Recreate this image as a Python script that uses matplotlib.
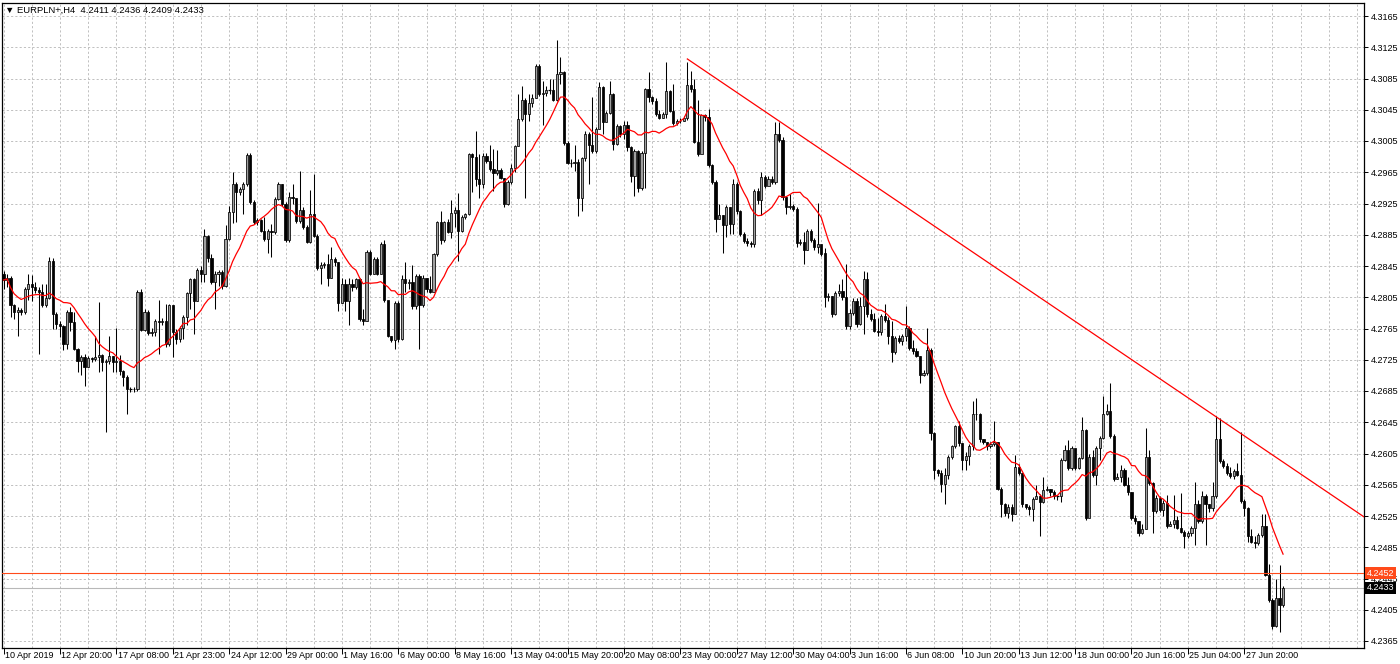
import matplotlib
matplotlib.use("Agg")
import matplotlib.pyplot as plt
import matplotlib.transforms as mtransforms
import numpy as np
import pandas as pd

# ---------------- data (EURPLN+, H4) ----------------
opens = [
    4.2835, 4.2827, 4.2830, 4.2795, 4.2786, 4.2789, 4.2786, 4.2815, 4.2822, 4.2818,
    4.2814, 4.2812, 4.2795, 4.2804, 4.2852, 4.2784, 4.2771, 4.2768, 4.2745, 4.2786,
    4.2773, 4.2739, 4.2724, 4.2728, 4.2716, 4.2727, 4.2726, 4.2728, 4.2731, 4.2722,
    4.2723, 4.2730, 4.2722, 4.2724, 4.2710, 4.2703, 4.2688, 4.2688, 4.2687, 4.2812,
    4.2763, 4.2786, 4.2759, 4.2761, 4.2775, 4.2773, 4.2775, 4.2745, 4.2795, 4.2760,
    4.2752, 4.2766, 4.2780, 4.2810, 4.2828, 4.2800, 4.2840, 4.2835, 4.2883, 4.2855,
    4.2825, 4.2835, 4.2837, 4.2820, 4.2880, 4.2914, 4.2950, 4.2940, 4.2943, 4.2950,
    4.2987, 4.2927, 4.2901, 4.2904, 4.2890, 4.2880, 4.2890, 4.2888, 4.2931, 4.2950,
    4.2925, 4.2878, 4.2933, 4.2932, 4.2903, 4.2917, 4.2895, 4.2876, 4.2912, 4.2884,
    4.2843, 4.2846, 4.2848, 4.2830, 4.2854, 4.2850, 4.2798, 4.2822, 4.2800, 4.2822,
    4.2818, 4.2828, 4.2777, 4.2775, 4.2863, 4.2835, 4.2854, 4.2835, 4.2873, 4.2801,
    4.2756, 4.2750, 4.2798, 4.2752, 4.2828, 4.2823, 4.2825, 4.2794, 4.2832, 4.2795,
    4.2830, 4.2815, 4.2812, 4.2860, 4.2901, 4.2878, 4.2901, 4.2889, 4.2913, 4.2917,
    4.2890, 4.2908, 4.2911, 4.2988, 4.2985, 4.2956, 4.2950, 4.2986, 4.2980, 4.2969,
    4.2964, 4.2968, 4.2958, 4.2925, 4.2952, 4.2970, 4.2999, 4.3033, 4.3057, 4.3040,
    4.3054, 4.3060, 4.3101, 4.3065, 4.3066, 4.3070, 4.3070, 4.3057, 4.3091, 4.3093,
    4.3003, 4.2977, 4.2977, 4.2978, 4.2932, 4.2983, 4.3014, 4.3000, 4.2992, 4.3020,
    4.3074, 4.3029, 4.3041, 4.3065, 4.3001, 4.3024, 4.3014, 4.3026, 4.2997, 4.2960,
    4.2992, 4.2945, 4.2990, 4.3071, 4.3061, 4.3056, 4.3039, 4.3035, 4.3039, 4.3069,
    4.3044, 4.3028, 4.3030, 4.3031, 4.3034, 4.3077, 4.3072, 4.3004, 4.2989, 4.3038,
    4.3036, 4.2974, 4.2952, 4.2905, 4.2910, 4.2898, 4.2920, 4.2899, 4.2950, 4.2916,
    4.2886, 4.2877, 4.2875, 4.2873, 4.2941, 4.2929, 4.2959, 4.2948, 4.2957, 4.2953,
    4.3014, 4.3006, 4.2933, 4.2920, 4.2922, 4.2918, 4.2875, 4.2876, 4.2865, 4.2890,
    4.2878, 4.2869, 4.2873, 4.2861, 4.2805, 4.2806, 4.2783, 4.2811, 4.2813, 4.2805,
    4.2768, 4.2785, 4.2800, 4.2771, 4.2794, 4.2828, 4.2783, 4.2777, 4.2762, 4.2760,
    4.2781, 4.2776, 4.2755, 4.2735, 4.2753, 4.2749, 4.2755, 4.2766, 4.2740, 4.2736,
    4.2730, 4.2706, 4.2708, 4.2738, 4.2631, 4.2584, 4.2580, 4.2566, 4.2578, 4.2601,
    4.2614, 4.2640, 4.2618, 4.2597, 4.2602, 4.2614, 4.2655, 4.2656, 4.2623, 4.2620,
    4.2614, 4.2617, 4.2620, 4.2560, 4.2541, 4.2529, 4.2537, 4.2527, 4.2588, 4.2580,
    4.2540, 4.2536, 4.2534, 4.2547, 4.2550, 4.2543, 4.2558, 4.2560, 4.2556, 4.2550,
    4.2550, 4.2597, 4.2610, 4.2586, 4.2612, 4.2586, 4.2599, 4.2635, 4.2522, 4.2601,
    4.2578, 4.2612, 4.2625, 4.2655, 4.2659, 4.2627, 4.2573, 4.2575, 4.2584, 4.2565,
    4.2556, 4.2522, 4.2518, 4.2503, 4.2509, 4.2600, 4.2567, 4.2531, 4.2548, 4.2533,
    4.2542, 4.2512, 4.2515, 4.2520, 4.2510, 4.2505, 4.2499, 4.2503, 4.2510, 4.2541,
    4.2518, 4.2550, 4.2540, 4.2535, 4.2550, 4.2623, 4.2595, 4.2589, 4.2580, 4.2576,
    4.2582, 4.2578, 4.2544, 4.2535, 4.2499, 4.2492, 4.2490, 4.2501, 4.2512, 4.2450,
    4.2418, 4.2384, 4.2420, 4.2411,
]
highs = [
    4.2838, 4.2835, 4.2832, 4.2797, 4.2792, 4.2791, 4.2818, 4.2835, 4.2833, 4.2824,
    4.2818, 4.2822, 4.2822, 4.2856, 4.2855, 4.2786, 4.2775, 4.2770, 4.2789, 4.2792,
    4.2786, 4.2740, 4.2731, 4.2733, 4.2730, 4.2729, 4.2756, 4.2799, 4.2733, 4.2726,
    4.2756, 4.2730, 4.2766, 4.2731, 4.2712, 4.2705, 4.2690, 4.2690, 4.2814, 4.2815,
    4.2790, 4.2789, 4.2766, 4.2777, 4.2801, 4.2778, 4.2797, 4.2797, 4.2795, 4.2765,
    4.2768, 4.2782, 4.2812, 4.2830, 4.2830, 4.2842, 4.2845, 4.2893, 4.2885, 4.2860,
    4.2838, 4.2840, 4.2840, 4.2897, 4.2922, 4.2965, 4.2952, 4.2946, 4.2953, 4.2990,
    4.2990, 4.2930, 4.2907, 4.2905, 4.2908, 4.2892, 4.2899, 4.2933, 4.2952, 4.2950,
    4.2927, 4.2940, 4.2950, 4.2930, 4.2967, 4.2920, 4.2897, 4.2942, 4.2963, 4.2886,
    4.2850, 4.2850, 4.2860, 4.2869, 4.2856, 4.2850, 4.2830, 4.2828, 4.2830, 4.2828,
    4.2830, 4.2830, 4.2790, 4.2866, 4.2866, 4.2856, 4.2856, 4.2876, 4.2878, 4.2800,
    4.2756, 4.2800, 4.2800, 4.2833, 4.2850, 4.2828, 4.2846, 4.2835, 4.2835, 4.2833,
    4.2830, 4.2832, 4.2862, 4.2903, 4.2916, 4.2903, 4.2905, 4.2930, 4.2920, 4.2939,
    4.2910, 4.2913, 4.2990, 4.2990, 4.3018, 4.2988, 4.2990, 4.2990, 4.3000, 4.2995,
    4.2994, 4.2970, 4.2958, 4.2955, 4.2975, 4.3000, 4.3065, 4.3075, 4.3060, 4.3065,
    4.3065, 4.3104, 4.3104, 4.3082, 4.3075, 4.3084, 4.3084, 4.3134, 4.3112, 4.3094,
    4.3005, 4.2982, 4.3000, 4.2982, 4.2985, 4.3018, 4.3016, 4.3061, 4.3023, 4.3080,
    4.3076, 4.3043, 4.3082, 4.3066, 4.3027, 4.3025, 4.3030, 4.3030, 4.2998, 4.2995,
    4.2993, 4.2992, 4.3073, 4.3093, 4.3063, 4.3060, 4.3045, 4.3042, 4.3106, 4.3070,
    4.3078, 4.3033, 4.3035, 4.3037, 4.3106, 4.3094, 4.3085, 4.3057, 4.3040, 4.3040,
    4.3046, 4.2975, 4.2955, 4.2924, 4.2910, 4.2923, 4.2921, 4.2957, 4.2952, 4.2917,
    4.2888, 4.2881, 4.2877, 4.2943, 4.2945, 4.2965, 4.2962, 4.2960, 4.2960, 4.3029,
    4.3029, 4.3010, 4.2935, 4.2937, 4.2925, 4.2920, 4.2880, 4.2888, 4.2893, 4.2892,
    4.2881, 4.2926, 4.2872, 4.2868, 4.2810, 4.2807, 4.2813, 4.2822, 4.2828, 4.2847,
    4.2790, 4.2804, 4.2804, 4.2805, 4.2839, 4.2837, 4.2790, 4.2785, 4.2778, 4.2784,
    4.2796, 4.2780, 4.2775, 4.2755, 4.2757, 4.2758, 4.2794, 4.2768, 4.2750, 4.2740,
    4.2730, 4.2712, 4.2766, 4.2740, 4.2633, 4.2585, 4.2584, 4.2586, 4.2603, 4.2616,
    4.2642, 4.2646, 4.2619, 4.2607, 4.2617, 4.2672, 4.2676, 4.2657, 4.2624, 4.2620,
    4.2620, 4.2646, 4.2620, 4.2562, 4.2542, 4.2540, 4.2540, 4.2603, 4.2592, 4.2580,
    4.2540, 4.2539, 4.2549, 4.2565, 4.2553, 4.2575, 4.2563, 4.2560, 4.2558, 4.2552,
    4.2599, 4.2616, 4.2622, 4.2614, 4.2607, 4.2601, 4.2652, 4.2637, 4.2604, 4.2610,
    4.2614, 4.2627, 4.2678, 4.2668, 4.2695, 4.2630, 4.2580, 4.2590, 4.2586, 4.2575,
    4.2556, 4.2526, 4.2518, 4.2515, 4.2638, 4.2610, 4.2569, 4.2552, 4.2550, 4.2545,
    4.2552, 4.2518, 4.2552, 4.2525, 4.2555, 4.2507, 4.2506, 4.2512, 4.2569, 4.2545,
    4.2557, 4.2553, 4.2540, 4.2569, 4.2653, 4.2651, 4.2598, 4.2593, 4.2588, 4.2585,
    4.2593, 4.2632, 4.2547, 4.2537, 4.2508, 4.2500, 4.2503, 4.2527, 4.2527, 4.2463,
    4.2420, 4.2445, 4.2462, 4.2436,
]
lows = [
    4.2815, 4.2818, 4.2780, 4.2777, 4.2756, 4.2782, 4.2783, 4.2802, 4.2800, 4.2810,
    4.2733, 4.2792, 4.2793, 4.2803, 4.2765, 4.2765, 4.2754, 4.2737, 4.2739, 4.2762,
    4.2737, 4.2709, 4.2705, 4.2692, 4.2716, 4.2722, 4.2723, 4.2709, 4.2711, 4.2632,
    4.2720, 4.2709, 4.2709, 4.2705, 4.2692, 4.2655, 4.2684, 4.2684, 4.2685, 4.2762,
    4.2762, 4.2757, 4.2756, 4.2756, 4.2733, 4.2770, 4.2741, 4.2743, 4.2728, 4.2745,
    4.2748, 4.2752, 4.2770, 4.2790, 4.2758, 4.2800, 4.2825, 4.2825, 4.2850, 4.2822,
    4.2790, 4.2820, 4.2816, 4.2818, 4.2878, 4.2900, 4.2901, 4.2936, 4.2912, 4.2948,
    4.2925, 4.2899, 4.2897, 4.2888, 4.2877, 4.2862, 4.2856, 4.2886, 4.2930, 4.2922,
    4.2876, 4.2876, 4.2925, 4.2900, 4.2900, 4.2893, 4.2874, 4.2874, 4.2882, 4.2840,
    4.2822, 4.2842, 4.2820, 4.2830, 4.2845, 4.2788, 4.2798, 4.2788, 4.2770, 4.2813,
    4.2815, 4.2775, 4.2770, 4.2775, 4.2833, 4.2835, 4.2833, 4.2835, 4.2799, 4.2754,
    4.2748, 4.2739, 4.2748, 4.2750, 4.2812, 4.2815, 4.2790, 4.2790, 4.2739, 4.2793,
    4.2812, 4.2810, 4.2826, 4.2858, 4.2873, 4.2876, 4.2887, 4.2881, 4.2895, 4.2851,
    4.2888, 4.2905, 4.2910, 4.2940, 4.2947, 4.2932, 4.2945, 4.2977, 4.2966, 4.2941,
    4.2962, 4.2956, 4.2920, 4.2923, 4.2950, 4.2965, 4.2998, 4.3030, 4.2932, 4.3030,
    4.3048, 4.3060, 4.3062, 4.3026, 4.3062, 4.3065, 4.3056, 4.3056, 4.3078, 4.3000,
    4.2975, 4.2972, 4.2966, 4.2909, 4.2915, 4.2980, 4.2950, 4.2990, 4.2990, 4.3020,
    4.3014, 4.3030, 4.3040, 4.2994, 4.3000, 4.3010, 4.3008, 4.2992, 4.2952, 4.2934,
    4.2940, 4.2942, 4.2945, 4.3055, 4.3053, 4.3037, 4.3033, 4.3034, 4.3035, 4.3042,
    4.3025, 4.3026, 4.3028, 4.3030, 4.3032, 4.3068, 4.3002, 4.2986, 4.2990, 4.3030,
    4.2972, 4.2950, 4.2888, 4.2905, 4.2862, 4.2882, 4.2886, 4.2886, 4.2912, 4.2884,
    4.2875, 4.2871, 4.2869, 4.2869, 4.2925, 4.2910, 4.2945, 4.2950, 4.2950, 4.2950,
    4.3004, 4.2930, 4.2912, 4.2918, 4.2915, 4.2869, 4.2872, 4.2848, 4.2865, 4.2876,
    4.2865, 4.2862, 4.2858, 4.2792, 4.2800, 4.2780, 4.2782, 4.2806, 4.2802, 4.2765,
    4.2764, 4.2782, 4.2767, 4.2770, 4.2758, 4.2780, 4.2775, 4.2760, 4.2755, 4.2757,
    4.2773, 4.2745, 4.2722, 4.2733, 4.2746, 4.2744, 4.2749, 4.2738, 4.2733, 4.2728,
    4.2695, 4.2704, 4.2705, 4.2622, 4.2573, 4.2576, 4.2556, 4.2541, 4.2573, 4.2598,
    4.2612, 4.2615, 4.2584, 4.2584, 4.2590, 4.2610, 4.2648, 4.2620, 4.2617, 4.2610,
    4.2612, 4.2614, 4.2558, 4.2524, 4.2525, 4.2522, 4.2518, 4.2527, 4.2578, 4.2537,
    4.2534, 4.2526, 4.2518, 4.2547, 4.2500, 4.2542, 4.2557, 4.2551, 4.2547, 4.2546,
    4.2543, 4.2595, 4.2584, 4.2584, 4.2584, 4.2585, 4.2598, 4.2520, 4.2535, 4.2575,
    4.2565, 4.2597, 4.2623, 4.2654, 4.2625, 4.2570, 4.2572, 4.2568, 4.2563, 4.2552,
    4.2520, 4.2515, 4.2500, 4.2502, 4.2508, 4.2565, 4.2503, 4.2529, 4.2530, 4.2525,
    4.2510, 4.2512, 4.2510, 4.2508, 4.2503, 4.2484, 4.2497, 4.2500, 4.2488, 4.2516,
    4.2516, 4.2488, 4.2530, 4.2532, 4.2548, 4.2593, 4.2587, 4.2577, 4.2574, 4.2573,
    4.2576, 4.2542, 4.2525, 4.2492, 4.2490, 4.2484, 4.2488, 4.2498, 4.2448, 4.2415,
    4.2380, 4.2383, 4.2377, 4.2409,
]
closes = [
    4.2827, 4.2830, 4.2795, 4.2786, 4.2789, 4.2786, 4.2815, 4.2822, 4.2818, 4.2814,
    4.2812, 4.2795, 4.2804, 4.2852, 4.2784, 4.2771, 4.2768, 4.2745, 4.2786, 4.2773,
    4.2739, 4.2724, 4.2728, 4.2716, 4.2727, 4.2726, 4.2728, 4.2731, 4.2722, 4.2723,
    4.2730, 4.2722, 4.2724, 4.2710, 4.2703, 4.2688, 4.2688, 4.2687, 4.2812, 4.2763,
    4.2786, 4.2759, 4.2761, 4.2775, 4.2773, 4.2775, 4.2745, 4.2795, 4.2760, 4.2752,
    4.2766, 4.2780, 4.2810, 4.2828, 4.2800, 4.2840, 4.2835, 4.2883, 4.2855, 4.2825,
    4.2835, 4.2837, 4.2820, 4.2880, 4.2914, 4.2950, 4.2940, 4.2943, 4.2950, 4.2987,
    4.2927, 4.2901, 4.2904, 4.2890, 4.2880, 4.2890, 4.2888, 4.2931, 4.2950, 4.2925,
    4.2878, 4.2933, 4.2932, 4.2903, 4.2917, 4.2895, 4.2876, 4.2912, 4.2884, 4.2843,
    4.2846, 4.2848, 4.2830, 4.2854, 4.2850, 4.2798, 4.2822, 4.2800, 4.2822, 4.2818,
    4.2828, 4.2777, 4.2775, 4.2863, 4.2835, 4.2854, 4.2835, 4.2873, 4.2801, 4.2756,
    4.2750, 4.2798, 4.2752, 4.2828, 4.2823, 4.2825, 4.2794, 4.2832, 4.2795, 4.2830,
    4.2815, 4.2812, 4.2860, 4.2901, 4.2878, 4.2901, 4.2889, 4.2913, 4.2917, 4.2890,
    4.2908, 4.2911, 4.2988, 4.2985, 4.2956, 4.2950, 4.2986, 4.2980, 4.2969, 4.2964,
    4.2968, 4.2958, 4.2925, 4.2952, 4.2970, 4.2999, 4.3033, 4.3057, 4.3040, 4.3054,
    4.3060, 4.3101, 4.3065, 4.3066, 4.3070, 4.3070, 4.3057, 4.3091, 4.3093, 4.3003,
    4.2977, 4.2977, 4.2978, 4.2932, 4.2983, 4.3014, 4.3000, 4.2992, 4.3020, 4.3074,
    4.3029, 4.3041, 4.3065, 4.3001, 4.3024, 4.3014, 4.3026, 4.2997, 4.2960, 4.2992,
    4.2945, 4.2990, 4.3071, 4.3061, 4.3056, 4.3039, 4.3035, 4.3039, 4.3069, 4.3044,
    4.3028, 4.3030, 4.3031, 4.3034, 4.3077, 4.3072, 4.3004, 4.2989, 4.3038, 4.3036,
    4.2974, 4.2952, 4.2905, 4.2910, 4.2898, 4.2920, 4.2899, 4.2950, 4.2916, 4.2886,
    4.2877, 4.2875, 4.2873, 4.2941, 4.2929, 4.2959, 4.2948, 4.2957, 4.2953, 4.3014,
    4.3006, 4.2933, 4.2920, 4.2922, 4.2918, 4.2875, 4.2876, 4.2865, 4.2890, 4.2878,
    4.2869, 4.2873, 4.2861, 4.2805, 4.2806, 4.2783, 4.2811, 4.2813, 4.2805, 4.2768,
    4.2785, 4.2800, 4.2771, 4.2794, 4.2828, 4.2783, 4.2777, 4.2762, 4.2760, 4.2781,
    4.2776, 4.2755, 4.2735, 4.2753, 4.2749, 4.2755, 4.2766, 4.2740, 4.2736, 4.2730,
    4.2706, 4.2708, 4.2738, 4.2631, 4.2584, 4.2580, 4.2566, 4.2578, 4.2601, 4.2614,
    4.2640, 4.2618, 4.2597, 4.2602, 4.2614, 4.2655, 4.2656, 4.2623, 4.2620, 4.2614,
    4.2617, 4.2620, 4.2560, 4.2541, 4.2529, 4.2537, 4.2527, 4.2588, 4.2580, 4.2540,
    4.2536, 4.2534, 4.2547, 4.2550, 4.2543, 4.2558, 4.2560, 4.2556, 4.2550, 4.2550,
    4.2597, 4.2610, 4.2586, 4.2612, 4.2586, 4.2599, 4.2635, 4.2522, 4.2601, 4.2578,
    4.2612, 4.2625, 4.2655, 4.2659, 4.2627, 4.2573, 4.2575, 4.2584, 4.2565, 4.2556,
    4.2522, 4.2518, 4.2503, 4.2509, 4.2600, 4.2567, 4.2531, 4.2548, 4.2533, 4.2542,
    4.2512, 4.2515, 4.2520, 4.2510, 4.2505, 4.2499, 4.2503, 4.2510, 4.2541, 4.2518,
    4.2550, 4.2540, 4.2535, 4.2550, 4.2623, 4.2595, 4.2589, 4.2580, 4.2576, 4.2582,
    4.2578, 4.2544, 4.2535, 4.2499, 4.2492, 4.2490, 4.2501, 4.2512, 4.2450, 4.2418,
    4.2384, 4.2420, 4.2411, 4.2433,
]

ma_period = 14
ask_price = 4.2452
symbol_title = "EURPLN+,H4"

# trendline anchors (bar index, price)
trend_bars = [194, 344]
trend_prices = [4.3110, 4.2652]

# time axis labels (every 16 bars)
date_labels = [
    "10 Apr 2019", "12 Apr 20:00", "17 Apr 08:00", "21 Apr 23:00", "24 Apr 12:00",
    "29 Apr 00:00", "1 May 16:00", "6 May 00:00", "8 May 16:00", "13 May 04:00",
    "15 May 20:00", "20 May 08:00", "23 May 00:00", "27 May 12:00", "30 May 04:00",
    "3 Jun 16:00", "6 Jun 08:00", "10 Jun 20:00", "13 Jun 12:00", "18 Jun 00:00",
    "20 Jun 16:00", "25 Jun 04:00", "27 Jun 20:00",
]
label_step = 16
grid_step = 8
price_ticks = [round(4.2365 + 0.004 * k, 4) for k in range(21)]

# ---------------- figure ----------------
W, H = 1400, 664
FONT = ["Liberation Sans", "DejaVu Sans"]
plt.rcParams["font.family"] = FONT
fig = plt.figure(figsize=(W / 100, H / 100), dpi=100)
fig.patch.set_facecolor("white")
L_px, R_px, T_px, B_px = 2, 1364, 3, 648
ax = fig.add_axes([L_px / W, 1 - B_px / H, (R_px - L_px) / W, (B_px - T_px) / H])

n = len(closes)
x = np.arange(n)
o = np.array(opens); h = np.array(highs); l = np.array(lows); c = np.array(closes)

xmin, xmax = -0.43, 385.96
ymin, ymax = 4.235604, 4.318164
ax.set_xlim(xmin, xmax)
ax.set_ylim(ymin, ymax)

# grid
grid_kw = dict(color="#c0c0c0", lw=0.7, linestyle=(0, (2.2, 2.2)), zorder=0.5)
for gx in range(0, int(xmax) + 1, grid_step):
    ax.axvline(gx, **grid_kw)
for gy in price_ticks:
    ax.axhline(gy, **grid_kw)

# candles
up = c >= o
ax.vlines(x, l, h, color="black", lw=0.75, zorder=2)
body_w = 0.62
bot = np.minimum(o, c)
hgt = np.abs(c - o)
flat = hgt < 0.00004
ax.bar(x[up & ~flat], hgt[up & ~flat], bottom=bot[up & ~flat], width=body_w,
       color="#a0a0a0", edgecolor="black", linewidth=0.55, zorder=3)
ax.bar(x[~up & ~flat], hgt[~up & ~flat], bottom=bot[~up & ~flat], width=body_w,
       color="black", edgecolor="black", linewidth=0.55, zorder=3)
ax.hlines(c[flat], x[flat] - body_w / 2 - 0.1, x[flat] + body_w / 2 + 0.1,
          color="black", lw=0.9, zorder=3)

# moving average (SMA 14 of closes)
ma = pd.Series(closes).rolling(ma_period, min_periods=1).mean()
ax.plot(x, ma, color="#ff0000", lw=0.9, zorder=4)

# trendline (ray to the right edge)
slope = (trend_prices[1] - trend_prices[0]) / (trend_bars[1] - trend_bars[0])
x_end = xmax + 1
ax.plot([trend_bars[0], x_end],
        [trend_prices[0], trend_prices[0] + slope * (x_end - trend_bars[0])],
        color="#ff0000", lw=0.9, zorder=4)

# bid / ask lines
ax.axhline(ask_price, color="#ff4a1a", lw=0.8, zorder=4)
ax.axhline(closes[-1], color="#b8b8b8", lw=0.8, zorder=1.5)

# spines
for sp in ax.spines.values():
    sp.set_color("black")
    sp.set_linewidth(0.9)

# y axis (right)
ax.yaxis.tick_right()
ax.set_yticks(price_ticks)
ax.set_yticklabels([f"{v:.4f}" for v in price_ticks])
ax.tick_params(axis="y", which="major", direction="out", length=3, width=0.7,
               pad=2, labelsize=6.5, colors="black")

# x axis: tick marks + left-aligned labels just right of each tick
xt = [i * label_step for i in range(len(date_labels))]
ax.set_xticks(xt)
ax.set_xticklabels([])
ax.tick_params(axis="x", which="major", direction="out", length=4, width=0.7,
               colors="black")
xtrans = mtransforms.blended_transform_factory(ax.transData, ax.transAxes)
offset = mtransforms.ScaledTranslation(1.5 / 100, -2.5 / 100, fig.dpi_scale_trans)
for pos, lab in zip(xt, date_labels):
    ax.text(pos, 0.0, lab, transform=xtrans + offset, ha="left", va="top",
            fontsize=6.5, color="black", clip_on=False)

# price boxes on the right axis
trans = mtransforms.blended_transform_factory(ax.transAxes, ax.transData)
box_x = 1.0 + 3 / (R_px - L_px)
ax.text(box_x, ask_price, f"{ask_price:.4f}", transform=trans, ha="left", va="center",
        fontsize=6.5, color="white", zorder=10, clip_on=False,
        bbox=dict(boxstyle="square,pad=0.18", facecolor="#ff4a1a", edgecolor="none"))
ax.text(box_x, closes[-1], f"{closes[-1]:.4f}", transform=trans, ha="left", va="center",
        fontsize=6.5, color="white", zorder=10, clip_on=False,
        bbox=dict(boxstyle="square,pad=0.18", facecolor="black", edgecolor="none"))

# header
header = (f"\u25BC {symbol_title}  {opens[-1]:.4f} {highs[-1]:.4f} "
          f"{lows[-1]:.4f} {closes[-1]:.4f}")
fig.text(5 / W, 1 - 10.5 / H, header, ha="left", va="center", fontsize=6.8,
         color="black", family=FONT)

fig.savefig("out.png", dpi=100, facecolor="white")
